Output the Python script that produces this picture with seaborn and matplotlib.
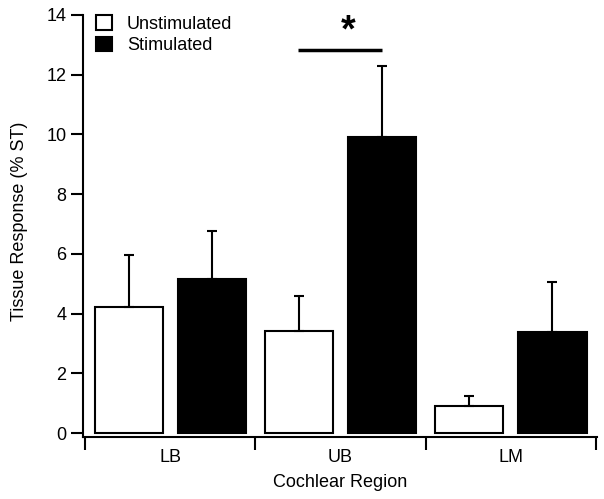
import matplotlib
matplotlib.use('Agg')
import matplotlib.pyplot as plt
from matplotlib.ticker import FixedLocator, NullFormatter
import seaborn as sns
import pandas as pd

regions = ['LB', 'UB', 'LM']
conditions = ['Unstimulated', 'Stimulated']
unstim_mean = [4.21, 3.42, 0.91]
unstim_err = [1.74, 1.18, 0.33]
stim_mean = [5.16, 9.92, 3.37]
stim_err = [1.60, 2.36, 1.69]

df = pd.DataFrame({
    'region': regions * 2,
    'condition': [conditions[0]] * 3 + [conditions[1]] * 3,
    'response': unstim_mean + stim_mean,
})
errs = {conditions[0]: unstim_err, conditions[1]: stim_err}

sns.set_style('ticks', {'axes.edgecolor': 'black', 'text.color': 'black',
                        'axes.labelcolor': 'black', 'xtick.color': 'black',
                        'ytick.color': 'black'})
plt.rcParams['font.family'] = ['Liberation Sans', 'DejaVu Sans']

fig = plt.figure(figsize=(6.04, 4.99), dpi=100)
ax = fig.add_axes([0.1366, 0.125, 0.852, 0.863])

sns.barplot(data=df, x='region', y='response', hue='condition', order=regions,
            hue_order=conditions, palette={'Unstimulated': 'white', 'Stimulated': 'black'},
            edgecolor='black', linewidth=1.5, width=0.976, gap=0.18, errorbar=None, ax=ax)

# one-sided error bars on top of each bar
for cond, container in zip(conditions, ax.containers):
    for bar, e in zip(container, errs[cond]):
        xc = bar.get_x() + bar.get_width() / 2
        h = bar.get_height()
        ax.errorbar(xc, h, yerr=[[0], [e]], fmt='none', ecolor='black',
                    elinewidth=1.5, capsize=3.8, capthick=1.5, zorder=3)

# significance marker between UB bars
ax.plot([0.75, 1.245], [12.83, 12.83], color='black', lw=2.5, solid_capstyle='butt')
ax.text(1.044, 13.45, '*', ha='center', va='center', fontsize=27, fontweight='bold')

ax.set_ylim(-0.12, 14.3)
ax.set_xlim(-0.515, 2.506)
ax.set_yticks([0, 2, 4, 6, 8, 10, 12, 14])
ax.spines['left'].set_bounds(-0.12, 14)
ax.spines['bottom'].set_bounds(-0.515, 2.506)
for s in ['left', 'bottom']:
    ax.spines[s].set_linewidth(1.5)
sns.despine(ax=ax)

# boundary ticks without labels, labels centred on groups
ax.xaxis.set_major_locator(FixedLocator([-0.5, 0.5, 1.5, 2.5]))
ax.xaxis.set_major_formatter(NullFormatter())
ax.xaxis.set_minor_locator(FixedLocator([0, 1, 2]))
ax.set_xticklabels(regions, minor=True)
ax.tick_params(axis='x', which='major', length=9.5, width=1.5, direction='out')
ax.tick_params(axis='x', which='minor', length=0, labelsize=13, pad=9)
ax.tick_params(axis='y', length=8.5, width=1.5, labelsize=13, pad=3)

ax.set_xlabel('Cochlear Region', fontsize=13, labelpad=6)
ax.set_ylabel('Tissue Response (% ST)', fontsize=13, labelpad=13)

leg = ax.legend(loc='upper left', bbox_to_anchor=(0.027, 0.978), frameon=False,
                fontsize=13, handlelength=0.85, handleheight=0.85, handletextpad=0.85,
                labelspacing=0.22, borderpad=0, borderaxespad=0)
for p in leg.get_patches():
    p.set_linewidth(1.5)
    p.set_edgecolor('black')

fig.savefig('out.png', dpi=100)
